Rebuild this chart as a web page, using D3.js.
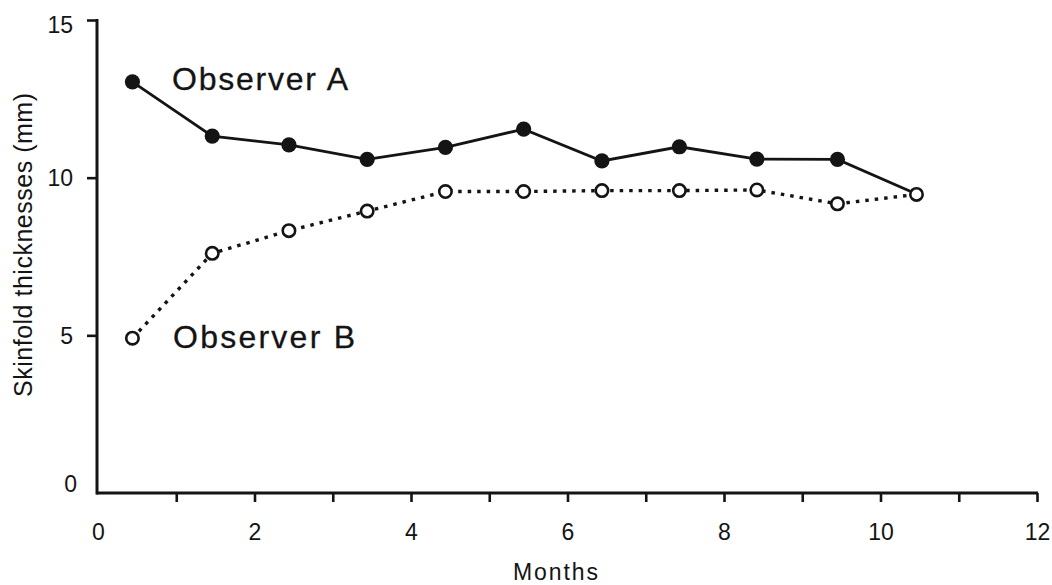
<!DOCTYPE html>
<html>
<head>
<meta charset="utf-8">
<script src="https://cdn.jsdelivr.net/npm/d3@7"></script>
<style>
  html, body { margin: 0; padding: 0; background: #fff; }
  svg { display: block; }
</style>
</head>
<body>
<svg id="chart" width="1052" height="585"></svg>
<script>
// ---- data ----
const months    = [0.44, 1.46, 2.44, 3.44, 4.44, 5.44, 6.44, 7.43, 8.42, 9.45, 10.46];
const observerA = [13.04, 11.32, 11.04, 10.58, 10.96, 11.54, 10.53, 10.98, 10.59, 10.58, 9.48];
const observerB = [4.91, 7.60, 8.32, 8.94, 9.56, 9.56, 9.59, 9.59, 9.61, 9.17, 9.47];
const xTicks    = [0, 1, 2, 3, 4, 5, 6, 7, 8, 9, 10, 11, 12];
const yTicks    = [0, 5, 10, 15];
const seriesNames = ["Observer A", "Observer B"];
const xTitle = "Months";
const yTitle = "Skinfold thicknesses (mm)";

const svg = d3.select("#chart");
const x = d3.scaleLinear().domain([0, 12]).range([98, 1037]);
const y = d3.scaleLinear().domain([0, 15]).range([493, 20]);
const font = "'Liberation Sans', Arial, Helvetica, sans-serif";
const ink = "#141414";

// ---- axes ----
const xAxis = d3.axisBottom(x)
  .tickValues(xTicks)
  .tickSize(9)
  .tickSizeOuter(0)
  .tickPadding(22)
  .tickFormat(d => d % 2 === 0 ? d : "");
const gx = svg.append("g").attr("transform", `translate(0,${y(0)})`).call(xAxis);
gx.select(".domain").attr("stroke", ink).attr("stroke-width", 3)
  .attr("d", `M${x(0) - 1.5},0H${x(12) + 1}`);
gx.selectAll(".tick line").attr("stroke", ink).attr("stroke-width", 2.6)
  .attr("opacity", d => d === 0 ? 0 : 1);
gx.selectAll(".tick text").attr("font-family", font).attr("font-size", 23)
  .attr("fill", ink);

const yAxis = d3.axisLeft(y)
  .tickValues(yTicks)
  .tickSize(10)
  .tickSizeOuter(0)
  .tickPadding(13)
  .tickFormat(d => d);
const gy = svg.append("g").attr("transform", `translate(${x(0) - 1},0)`).call(yAxis);
gy.select(".domain").attr("stroke", ink).attr("stroke-width", 3)
  .attr("d", `M0,${y(15) - 1}V${y(0) + 1.5}`);
gy.selectAll(".tick line").attr("stroke", ink).attr("stroke-width", 2.6)
  .attr("opacity", d => d === 0 ? 0 : 1);
gy.selectAll(".tick text").attr("font-family", font).attr("font-size", 23)
  .attr("fill", ink)
  .attr("dy", d => d === 0 ? "-0.05em" : d === 15 ? "0.55em" : "0.35em")
  .attr("x", d => d === 0 ? -20 : -24);

// ---- axis titles ----
svg.append("text")
  .attr("x", 555.5).attr("y", 579.5)
  .attr("text-anchor", "middle")
  .attr("font-family", font).attr("font-size", 23)
  .attr("textLength", 85).attr("lengthAdjust", "spacing")
  .attr("fill", ink)
  .text(xTitle);

svg.append("text")
  .attr("transform", "translate(32,245) rotate(-90)")
  .attr("text-anchor", "middle")
  .attr("font-family", font).attr("font-size", 25)
  .attr("textLength", 304).attr("lengthAdjust", "spacing")
  .attr("fill", ink)
  .text(yTitle);

// ---- lines ----
const line = d3.line().x((d, i) => x(months[i])).y(d => y(d));

svg.append("path").datum(observerB)
  .attr("d", line)
  .attr("fill", "none")
  .attr("stroke", ink)
  .attr("stroke-width", 3.4)
  .attr("stroke-dasharray", "3.5,6");

svg.append("path").datum(observerA)
  .attr("d", line)
  .attr("fill", "none")
  .attr("stroke", ink)
  .attr("stroke-width", 2.8);

// ---- markers ----
svg.append("g").selectAll("circle").data(observerB).join("circle")
  .attr("cx", (d, i) => x(months[i]))
  .attr("cy", d => y(d))
  .attr("r", 6.2)
  .attr("fill", "#fff")
  .attr("stroke", ink)
  .attr("stroke-width", 2.6);

svg.append("g").selectAll("circle").data(observerA.slice(0, -1)).join("circle")
  .attr("cx", (d, i) => x(months[i]))
  .attr("cy", d => y(d))
  .attr("r", 7.6)
  .attr("fill", ink);

// ---- series labels ----
svg.append("text")
  .attr("x", 172).attr("y", 90)
  .attr("font-family", font).attr("font-size", 32)
  .attr("textLength", 176).attr("lengthAdjust", "spacing")
  .attr("fill", ink).attr("stroke", ink).attr("stroke-width", 0.3)
  .text(seriesNames[0]);

svg.append("text")
  .attr("x", 173).attr("y", 348)
  .attr("font-family", font).attr("font-size", 32)
  .attr("textLength", 182).attr("lengthAdjust", "spacing")
  .attr("fill", ink).attr("stroke", ink).attr("stroke-width", 0.3)
  .text(seriesNames[1]);
</script>
</body>
</html>
